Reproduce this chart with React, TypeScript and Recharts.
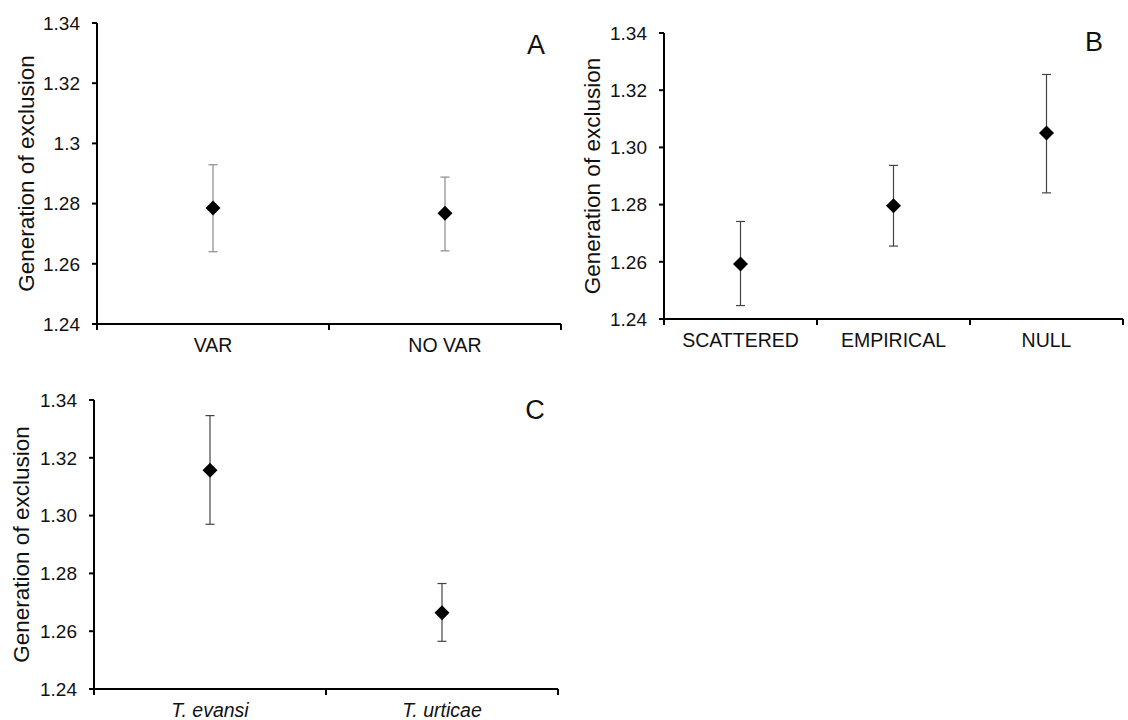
import React from "react";
import { ComposedChart, Line, ErrorBar, XAxis, YAxis } from "recharts";

// panel A
const catsA = ["VAR", "NO VAR"];
const meanA = [1.2785, 1.2768];
const lowA = [1.264, 1.2643];
const highA = [1.2929, 1.2888];

// panel B
const catsB = ["SCATTERED", "EMPIRICAL", "NULL"];
const meanB = [1.2592, 1.2796, 1.305];
const lowB = [1.2447, 1.2655, 1.2841];
const highB = [1.2741, 1.2937, 1.3255];

// panel C
const catsC = ["T. evansi", "T. urticae"];
const meanC = [1.3157, 1.2664];
const lowC = [1.297, 1.2565];
const highC = [1.3346, 1.2765];

const yTicks = [1.24, 1.26, 1.28, 1.3, 1.32, 1.34];

const FONT = '"Liberation Sans", Arial, Helvetica, sans-serif';

const Diamond = (props: any) => {
  const { cx, cy } = props;
  if (cx == null || cy == null) return null;
  const r = 7.5;
  return (
    <path
      d={`M${cx},${cy - r}L${cx + r},${cy}L${cx},${cy + r}L${cx - r},${cy}Z`}
      fill="#000"
    />
  );
};

const CategoryTick = (props: any) => {
  const { x, y, payload, index, band, count, italic } = props;
  const left = x - band / 2;
  return (
    <g>
      <line x1={left} y1={y} x2={left} y2={y + 6} stroke="#000" strokeWidth={2} />
      {index === count - 1 && (
        <line x1={x + band / 2} y1={y} x2={x + band / 2} y2={y + 6} stroke="#000" strokeWidth={2} />
      )}
      <text
        x={x}
        y={y + 28}
        textAnchor="middle"
        fontSize={19.5}
        fontStyle={italic ? "italic" : "normal"}
        fill="#111"
        fontFamily={FONT}
      >
        {payload.value}
      </text>
    </g>
  );
};

interface PanelProps {
  cats: string[];
  means: number[];
  lows: number[];
  highs: number[];
  left: number;
  top: number;
  width: number;
  height: number;
  plotLeft: number;
  plotRight: number;
  plotTop: number;
  plotBottom: number;
  titleOffset: number;
  letter: string;
  letterX: number;
  letterY: number;
  tickFmt: (v: number) => string;
  italic?: boolean;
  errColor: string;
}

function Panel(p: PanelProps) {
  const data = p.cats.map((name, i) => ({
    name,
    mean: p.means[i],
    err: [p.means[i] - p.lows[i], p.highs[i] - p.means[i]],
  }));
  const plotW = p.plotRight - p.plotLeft;
  const band = plotW / p.cats.length;

  return (
    <div style={{ position: "absolute", left: p.left, top: p.top, width: p.width, height: p.height }}>
      <ComposedChart
        width={p.width}
        height={p.height}
        data={data}
        margin={{ top: p.plotTop, right: p.width - p.plotRight, bottom: 0, left: 0 }}
      >
        <XAxis
          dataKey="name"
          scale="band"
          height={p.height - p.plotBottom}
          axisLine={{ stroke: "#000", strokeWidth: 2 }}
          tickLine={false}
          tickSize={0}
          tickMargin={0}
          interval={0}
          tick={<CategoryTick band={band} count={p.cats.length} italic={p.italic} />}
        />
        <YAxis
          type="number"
          width={p.plotLeft}
          domain={[1.24, 1.34]}
          ticks={yTicks}
          allowDataOverflow
          interval={0}
          axisLine={{ stroke: "#000", strokeWidth: 2 }}
          tickLine={{ stroke: "#000", strokeWidth: 2 }}
          tickSize={5}
          tickMargin={12}
          tickFormatter={p.tickFmt}
          tick={{ fontSize: 19, fill: "#111", fontFamily: FONT }}
          label={{
            value: "Generation of exclusion",
            angle: -90,
            position: "insideLeft",
            offset: p.titleOffset,
            style: { textAnchor: "middle", fontSize: 22.5, fill: "#111", fontFamily: FONT },
          }}
        />
        <Line
          dataKey="mean"
          stroke="none"
          isAnimationActive={false}
          dot={<Diamond />}
          activeDot={false}
          legendType="none"
        >
          <ErrorBar dataKey="err" direction="y" width={4.5} stroke={p.errColor} strokeWidth={1.2} />
        </Line>
      </ComposedChart>
      <div
        style={{
          position: "absolute",
          left: p.letterX,
          top: p.letterY,
          transform: "translate(-50%, -50%)",
          fontSize: 27,
          lineHeight: 1,
          color: "#111",
          fontFamily: FONT,
        }}
      >
        {p.letter}
      </div>
    </div>
  );
}

const fmtA = (v: number) => String(Number(v.toFixed(2)));
const fmt2 = (v: number) => v.toFixed(2);

export default function App() {
  return (
    <div
      style={{
        position: "absolute",
        left: 0,
        top: 0,
        width: 1128,
        height: 720,
        background: "#fff",
        fontFamily: FONT,
      }}
    >
      <Panel
        cats={catsA}
        means={meanA}
        lows={lowA}
        highs={highA}
        left={0}
        top={0}
        width={600}
        height={365}
        plotLeft={97}
        plotRight={561}
        plotTop={23}
        plotBottom={324}
        titleOffset={26}
        letter="A"
        letterX={536}
        letterY={45}
        tickFmt={fmtA}
        errColor="#8a8a8a"
      />
      <Panel
        cats={catsB}
        means={meanB}
        lows={lowB}
        highs={highB}
        left={560}
        top={0}
        width={568}
        height={365}
        plotLeft={104}
        plotRight={563}
        plotTop={33}
        plotBottom={319}
        titleOffset={32}
        letter="B"
        letterX={534}
        letterY={42}
        tickFmt={fmt2}
        errColor="#444"
      />
      <Panel
        cats={catsC}
        means={meanC}
        lows={lowC}
        highs={highC}
        left={0}
        top={360}
        width={600}
        height={360}
        plotLeft={94}
        plotRight={558}
        plotTop={40}
        plotBottom={329}
        titleOffset={21}
        letter="C"
        letterX={535}
        letterY={50}
        tickFmt={fmt2}
        italic
        errColor="#444"
      />
    </div>
  );
}
